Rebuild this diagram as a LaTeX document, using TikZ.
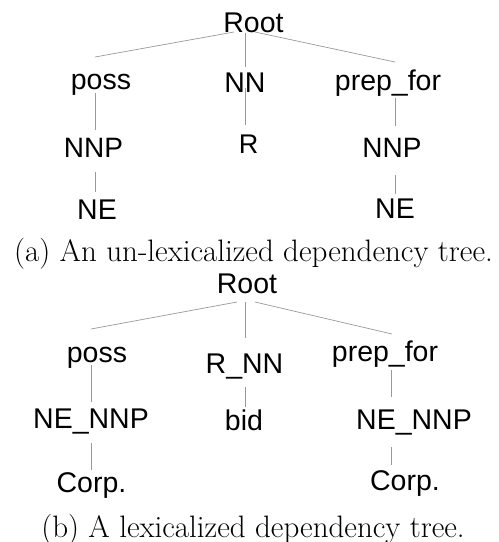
\documentclass[tikz,border=0pt]{standalone}
\usepackage{fontspec}
\newfontfamily\labelfont{Liberation Sans}
\begin{document}
\begin{tikzpicture}[x=1pt,y=-1pt,
  lbl/.style={anchor=base,inner sep=0pt,font=\labelfont\fontsize{#1}{#1}\selectfont},
  lbl/.default=28.5,
  captext/.style={anchor=base,inner sep=0pt,font=\fontsize{31}{31}\selectfont},
  link/.style={draw=black!40,line width=0.7pt}]
\useasboundingbox (0,0) rectangle (499,542);

% ---- (a) un-lexicalized tree ----
\node[lbl] (ra) at (253.5,32) {Root};
\node[lbl] (pa) at (101,89) {poss};
\node[lbl] (na) at (245,92) {NN};
\node[lbl] (fa) at (388,90) {prep\_for};
\node[lbl=28] (nnpa1) at (93.5,157) {NNP};
\node[lbl=27] (rr) at (248.5,153) {R};
\node[lbl=28] (nnpa2) at (392,157) {NNP};
\node[lbl] (nea1) at (97,219) {NE};
\node[lbl] (nea2) at (395,218) {NE};
\node[captext] (capa) at (253.5,261) {(a) An un-lexicalized dependency tree.};

% connector end points
\coordinate (ra-l) at (234,32);  \coordinate (pa-t) at (95,57);
\coordinate (ra-m) at (245,33);  \coordinate (na-t) at (245,67);
\coordinate (ra-r) at (255,32);  \coordinate (fa-t) at (395,62);
\coordinate (pa-b) at (95,93);   \coordinate (nnpa1-t) at (95,130);
\coordinate (na-b) at (245,88);  \coordinate (rr-t) at (245,125);
\coordinate (fa-b) at (395,98);  \coordinate (nnpa2-t) at (395,126);
\coordinate (nnpa1-b) at (95,172); \coordinate (nea1-t) at (95,192);
\coordinate (nnpa2-b) at (395,175); \coordinate (nea2-t) at (395,194);

\draw[link] (ra-l) -- (pa-t);
\draw[link] (ra-m) -- (na-t);
\draw[link] (ra-r) -- (fa-t);
\draw[link] (pa-b) -- (nnpa1-t);
\draw[link] (na-b) -- (rr-t);
\draw[link] (fa-b) -- (nnpa2-t);
\draw[link] (nnpa1-b) -- (nea1-t);
\draw[link] (nnpa2-b) -- (nea2-t);

% ---- (b) lexicalized tree ----
\node[lbl] (rb) at (247,293) {Root};
\node[lbl] (pb) at (97,362) {poss};
\node[lbl] (rnn) at (244.5,373) {R\_NN};
\node[lbl] (fb) at (385,361) {prep\_for};
\node[lbl] (nnb1) at (91,428) {NE\_NNP};
\node[lbl] (bid) at (244,430) {bid};
\node[lbl] (nnb2) at (414,429) {NE\_NNP};
\node[lbl] (cb1) at (91.5,492) {Corp.};
\node[lbl] (cb2) at (405,490) {Corp.};
\node[captext] (capb) at (253,537) {(b) A lexicalized dependency tree.};

\coordinate (rb-l) at (237,302);  \coordinate (pb-t) at (91,329);
\coordinate (rb-m) at (245,302);  \coordinate (rnn-t) at (245,338);
\coordinate (rb-r) at (255,302);  \coordinate (fb-t) at (392,334);
\coordinate (pb-b) at (91,365);   \coordinate (nnb1-t) at (91,402);
\coordinate (rnn-b) at (245,387); \coordinate (bid-t) at (245,407);
\coordinate (fb-b) at (391,370);  \coordinate (nnb2-t) at (391,397);
\coordinate (nnb1-b) at (91,443); \coordinate (cb1-t) at (91,470);
\coordinate (nnb2-b) at (391,447); \coordinate (cb2-t) at (391,465);

\draw[link] (rb-l) -- (pb-t);
\draw[link] (rb-m) -- (rnn-t);
\draw[link] (rb-r) -- (fb-t);
\draw[link] (pb-b) -- (nnb1-t);
\draw[link] (rnn-b) -- (bid-t);
\draw[link] (fb-b) -- (nnb2-t);
\draw[link] (nnb1-b) -- (cb1-t);
\draw[link] (nnb2-b) -- (cb2-t);
\end{tikzpicture}
\end{document}
